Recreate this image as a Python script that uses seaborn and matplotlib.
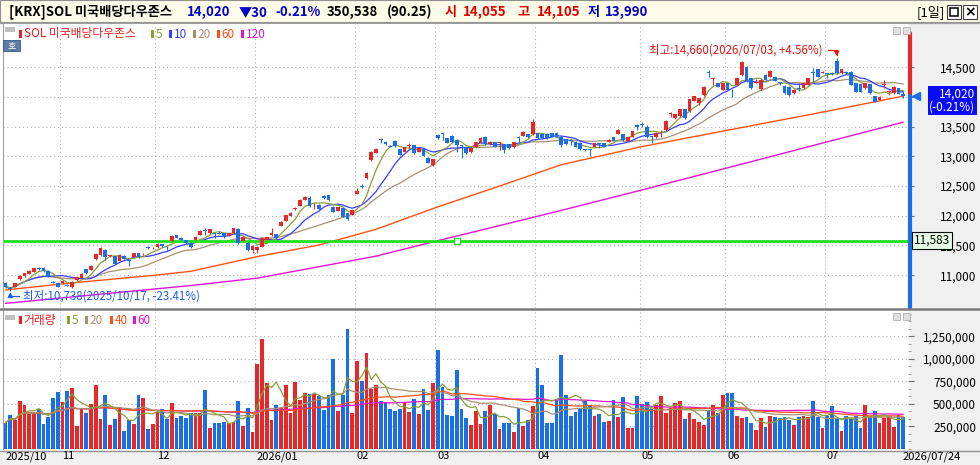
import numpy as np
import pandas as pd
import matplotlib
matplotlib.use("Agg")
import matplotlib.pyplot as plt
import matplotlib.transforms as mtransforms
from matplotlib.patches import Rectangle
from matplotlib.lines import Line2D
from matplotlib.ticker import MultipleLocator
from matplotlib import font_manager as fm
import seaborn as sns

# ---------------- data ----------------
opens = [10874,10790,10806,10930,10986,11025,11059,11126,11115,11070,10880,10874,
         10862,10830,10795,10919,10952,11098,11087,11267,11340,11424,11320,11323,11244,11323,11250,11312,11365,11350,11475,11450,
         11468,11525,11490,11581,11670,11630,11592,11548,11592,11677,11750,11705,11710,11712,11705,11660,11705,11772,11580,11548,11424,
         11424,11480,11592,11676,11693,11828,11918,11996,12115,12165,12266,12294,12190,12182,12333,12345,12154,12086,12126,12042,12013,
         12367,12495,12631,12940,13063,13285,13248,13170,13259,13119,13080,13175,13192,13080,13119,12979,12855,
         13360,13390,13304,13343,13276,13180,13153,13068,13164,13231,13332,13209,13237,13220,13209,13203,13153,13320,13349,13377,13372,
         13388,13380,13370,13388,13400,13320,13287,13270,13248,13231,13120,13115,13164,13215,13220,13250,13320,13377,13377,13264,13332,13520,
         13545,13489,13340,13321,13420,13444,13710,13640,13680,13792,13764,13938,13893,14033,14420,14300,14230,14117,
         14230,14120,14201,14370,14500,14314,14240,14129,14370,14342,14342,14250,14185,14174,14062,14150,14146,14202,14420,14465,14410,
         14400,14400,14600,14398,14420,14426,14230,14218,14146,14218,14017,13950,14200,14080,14062,14146,14055]
highs = [10890,10800,10875,11000,11040,11080,11125,11140,11130,11080,10895,10885,
         10915,10845,10900,10975,11030,11110,11165,11360,11480,11440,11345,11330,11350,11335,11255,11380,11375,11380,11490,11480,
         11535,11530,11495,11670,11680,11640,11600,11560,11660,11755,11790,11780,11715,11740,11715,11715,11800,11790,11645,11560,11500,
         11490,11640,11645,11790,11700,11910,12020,12060,12140,12275,12330,12330,12210,12190,12345,12355,12160,12150,12135,12050,12105,
         12460,12530,12735,13090,13140,13310,13260,13190,13270,13130,13160,13220,13200,13145,13130,12990,12960,
         13370,13400,13315,13355,13285,13190,13165,13155,13245,13325,13345,13255,13245,13240,13215,13210,13250,13350,13425,13385,13630,
         13400,13395,13390,13395,13410,13340,13300,13290,13255,13240,13130,13120,13230,13225,13230,13290,13330,13455,13385,13330,13435,13540,
         13580,13530,13350,13410,13444,13610,13740,13715,13800,13800,13970,14025,13985,14180,14460,14320,14240,14240,
         14240,14130,14320,14610,14520,14325,14300,14295,14380,14450,14350,14260,14195,14180,14130,14230,14250,14320,14480,14475,14430,
         14410,14420,14660,14470,14430,14435,14240,14225,14240,14225,14025,14010,14286,14118,14180,14155,14105]
lows = [10790,10738,10795,10920,10975,11015,11050,11090,11060,10965,10860,10795,
        10850,10810,10780,10910,10945,11020,11080,11255,11330,11255,11310,11180,11235,11270,11150,11300,11290,11345,11440,11440,
        11460,11480,11420,11575,11620,11585,11530,11460,11585,11670,11680,11700,11620,11690,11630,11655,11700,11520,11570,11400,11380,
        11380,11470,11585,11660,11610,11820,11910,11990,12100,12160,12260,12155,12110,12100,12285,12255,12060,12080,11975,11930,12005,
        12360,12470,12620,12930,13050,13220,13200,13150,13165,13015,13070,13135,13045,13070,13000,12885,12830,
        13295,13280,13225,13240,13080,12970,13045,13060,13155,13225,13200,13200,13155,13108,13060,13130,13145,13230,13340,13315,13365,
        13295,13300,13300,13320,13320,13160,13200,13190,13155,13110,13090,13010,13155,13135,13155,13245,13255,13370,13265,13255,13325,13444,
        13500,13310,13220,13315,13330,13435,13660,13630,13670,13630,13755,13930,13865,14025,14330,14200,14165,14110,
        14110,14005,14195,14360,14260,14140,14230,14120,14280,14335,14270,14202,14055,14025,14055,14100,14140,14195,14258,14335,14400,
        14315,14370,14390,14390,14390,14195,14085,14085,14140,14055,13910,13945,14146,14034,14055,14045,13990]
closes = [10806,10760,10862,10986,11031,11070,11115,11098,11076,10975,10870,10806,
          10907,10820,10890,10964,11020,11031,11154,11351,11452,11300,11330,11188,11340,11278,11240,11368,11300,11360,11465,11460,
          11525,11490,11485,11660,11626,11592,11540,11470,11648,11744,11740,11772,11700,11700,11637,11705,11789,11536,11637,11424,11491,
          11480,11620,11637,11705,11620,11901,12013,12052,12125,12266,12322,12165,12200,12110,12294,12266,12070,12142,11985,11940,12098,
          12423,12485,12726,13080,13119,13270,13209,13160,13175,13024,13153,13185,13052,13136,13007,12895,12950,
          13304,13380,13231,13248,13192,13170,13052,13147,13237,13315,13209,13248,13164,13230,13108,13136,13242,13310,13416,13321,13585,
          13304,13310,13315,13332,13330,13200,13208,13260,13164,13119,13110,13105,13220,13205,13164,13280,13264,13444,13276,13320,13427,13500,
          13530,13321,13330,13399,13430,13601,13720,13708,13792,13640,13960,14016,13977,14173,14410,14310,14174,14230,
          14117,14110,14314,14595,14270,14146,14260,14286,14286,14443,14275,14240,14062,14033,14120,14140,14240,14314,14400,14342,14420,
          14390,14390,14400,14465,14400,14202,14090,14090,14230,14062,13921,14005,14215,14090,14174,14050,14020]
volumes_k = [291,376,321,535,487,387,387,439,277,358,568,634,
             524,645,678,258,450,395,498,708,336,597,265,336,461,203,321,277,597,568,225,277,
             413,440,330,505,339,365,339,395,402,402,653,236,291,291,302,284,302,531,254,450,192,
             940,1217,734,321,487,450,708,402,737,542,616,608,608,586,431,597,999,424,597,1335,395,
             977,752,1066,660,708,531,524,439,420,439,520,413,553,387,664,431,726,
             1095,689,376,369,874,442,343,269,420,277,420,487,383,221,288,288,192,450,254,321,479,
             900,712,284,291,557,1040,597,365,413,439,535,476,365,387,302,313,542,358,579,229,236,586,
             498,524,439,487,586,395,450,505,535,332,402,332,302,265,431,487,402,597,
             623,623,365,339,358,291,210,339,240,365,350,339,358,321,265,358,365,358,535,358,236,
             365,476,339,199,365,328,365,236,487,365,420,291,339,365,247,376,351]

# long moving averages at a few candle positions
ma60_idx = [0, 13, 32, 39, 53, 66, 78, 91, 104, 117, 134, 152, 173, 189]
ma60_val = [10750, 10862, 11003, 11065, 11312, 11508, 11772, 12150, 12500, 12860, 13165, 13440, 13760, 14015]
ma120_idx = [0, 20, 39, 53, 78, 91, 117, 134, 156, 173, 189]
ma120_val = [10525, 10680, 10825, 10950, 11320, 11580, 12090, 12435, 12890, 13245, 13575]

month_starts = [0, 12, 32, 53, 74, 91, 112, 134, 152, 173]
month_labels = ['2025/10', '11', '12', '2026/01', '02', '03', '04', '05', '06', '07']
last_label = '2026/07/24'
price_ticks = [11000, 11500, 12000, 12500, 13000, 13500, 14000, 14500]
vol_ticks = [250000, 500000, 750000, 1000000, 1250000]
support_level = 11583
support_anchor = 95

# ---------------- style ----------------
sns.set_style("white")
KR = 'Noto Sans CJK KR'
names = {f.name for f in fm.fontManager.ttflist}
NUM = 'Liberation Sans Narrow' if 'Liberation Sans Narrow' in names else KR
NUMSIZE = 10 if NUM != KR else 8.5
XSIZE = 9 if NUM != KR else 8
plt.rcParams['font.family'] = [KR, 'DejaVu Sans']

RED = '#e62828'
BLUE = '#1a6ee6'
C5, C10, C20, C60, C120 = '#88a038', '#3c3cff', '#a89070', '#ff5014', '#e014d0'
GRID = '#b0b0b0'
AXBG = '#f0f0f0'

W, H = 980, 465
fig = plt.figure(figsize=(9.8, 4.65), dpi=100)
fig.patch.set_facecolor('white')


def frect(x0, y0, x1, y1, **kw):
    r = Rectangle((x0 / W, 1 - y1 / H), (x1 - x0) / W, (y1 - y0) / H,
                  transform=fig.transFigure, **kw)
    fig.add_artist(r)
    return r


def ftext(x, y, s, **kw):
    return fig.text(x / W, 1 - y / H, s, **kw)


# backgrounds
frect(0, 0, 980, 22, fc='#fdfce8', ec='#909090', lw=0.8, zorder=-1)
frect(909, 23, 980, 451, fc=AXBG, ec='none', zorder=-1)
frect(0, 451, 980, 465, fc=AXBG, ec='none', zorder=-1)
fig.add_artist(Line2D([0, 1], [1 - 451 / H] * 2, color='#909090', lw=1, transform=fig.transFigure, zorder=-0.5))
fig.add_artist(Line2D([0, 1], [1 - 23.5 / H] * 2, color='#a0a0a0', lw=1, transform=fig.transFigure, zorder=-0.5))

ax_p = fig.add_axes([3 / W, 1 - 308 / H, 905 / W, 284 / H])
ax_v = fig.add_axes([3 / W, 1 - 449 / H, 905 / W, 139 / H])
fig.add_artist(Line2D([0, 1], [1 - 309 / H] * 2, color='#7a7a7a', lw=1.8, transform=fig.transFigure, zorder=5))

n = len(closes)
x = np.arange(n)
O = np.array(opens, float); Hh = np.array(highs, float)
L = np.array(lows, float); C = np.array(closes, float)
V = np.array(volumes_k, float) * 1000
up = C >= O
cols = np.where(up, RED, BLUE)

XLIM = (-0.53, n - 0.0)
PLIM = (10447, 15229)
VLIM = (0, 1540000)

for ax in (ax_p, ax_v):
    ax.set_facecolor('white')
    ax.set_xlim(*XLIM)
    for s in ('top', 'right', 'bottom'):
        ax.spines[s].set_visible(False)
    ax.spines['left'].set_color('#a0a0a0')
    for m in month_starts[1:]:
        ax.axvline(m - 0.5, color=GRID, lw=0.8, ls=(0, (1, 2.5)), zorder=0.5)

# ---------------- price panel ----------------
ax_p.set_ylim(*PLIM)
for t in price_ticks:
    ax_p.axhline(t, color=GRID, lw=0.8, ls=(0, (1, 2.5)), zorder=0.5)

close_s = pd.Series(C)
sns.lineplot(x=ma120_idx, y=ma120_val, ax=ax_p, color=C120, linewidth=1.0, errorbar=None, zorder=2)
sns.lineplot(x=ma60_idx, y=ma60_val, ax=ax_p, color=C60, linewidth=1.0, errorbar=None, zorder=2)
for win, col in ((20, C20), (10, C10), (5, C5)):
    sns.lineplot(x=x, y=close_s.rolling(win, min_periods=1).mean().values, ax=ax_p,
                 color=col, linewidth=0.9, errorbar=None, zorder=2)

ax_p.axhline(support_level, color='#1ee01e', lw=2.0, zorder=2.5)
ax_p.plot([support_anchor], [support_level], marker='s', ms=5, mfc='white', mec='#1ee01e', mew=1, zorder=2.6)

ax_p.vlines(x, L, Hh, colors=cols, lw=0.8, zorder=3)
body_lo = np.minimum(O, C)
body_h = np.maximum(np.abs(C - O), 14)
ax_p.bar(x, body_h, bottom=body_lo, width=0.78, color=cols, linewidth=0, zorder=3.1)

ax_p.set_xticks([])
ax_p.yaxis.tick_right()
ax_p.set_yticks(price_ticks)
# the 14,000 label sits under the current-price box in the reference
ax_p.set_yticklabels(["" if t == 14000 else f"{t:,}" for t in price_ticks], fontfamily=NUM, fontsize=NUMSIZE)
ax_p.tick_params(axis='y', direction='out', length=4, width=0.8, colors='#707070',
                 labelcolor='black', pad=45)
for lb in ax_p.get_yticklabels():
    lb.set_horizontalalignment('right')
ax_p.set_xlabel(''); ax_p.set_ylabel('')

# right-edge current price bar
ytr = ax_p.get_yaxis_transform()
top_val = PLIM[1] - (PLIM[1] - PLIM[0]) * 9 / 284
ax_p.plot([1 + 2 / 905] * 2, [top_val, C[-1]], color=RED, lw=3, transform=ytr, clip_on=False, zorder=6)
ax_p.plot([1 + 2 / 905] * 2, [C[-1], PLIM[0]], color=BLUE, lw=3, transform=ytr, clip_on=False, zorder=6)
ax_p.plot([1 + 8 / 905], [C[-1]], marker='<', ms=6, color=BLUE, transform=ytr, clip_on=False, zorder=6)
chg = C[-1] - C[-2]
ax_p.annotate(f"{int(C[-1]):,}\n({chg / C[-2] * 100:+.2f}%)", xy=(1, C[-1]), xycoords=ytr,
              xytext=(48.5, 6), textcoords='offset points', ha='right', va='top',
              fontfamily=NUM, fontsize=NUMSIZE, color='white', linespacing=1.05,
              bbox=dict(boxstyle='square,pad=0.12', fc='#0a0aff', ec='none'), zorder=8,
              annotation_clip=False)
ax_p.annotate(f"{support_level:,}", xy=(1, support_level), xycoords=ytr,
              xytext=(4.5, 0), textcoords='offset points', ha='left', va='center',
              fontfamily=NUM, fontsize=NUMSIZE, color='black',
              bbox=dict(boxstyle='square,pad=0.15', fc='#e6ffe6', ec='black', lw=0.8), zorder=8,
              annotation_clip=False)

# high / low annotations
ih = int(np.argmax(Hh)); il = int(np.argmin(L))
ax_p.annotate(f"최고:{int(Hh[ih]):,}(2026/07/03, {(Hh[ih] / C[-1] - 1) * 100:+.2f}%)",
              xy=(ih, Hh[ih]), xytext=(-10, 5.5), textcoords='offset points', ha='right', va='center',
              fontsize=8.3, color='#e01818', zorder=7,
              arrowprops=dict(arrowstyle='-|>,head_length=0.35,head_width=0.18', color='#e01818', lw=0.9,
                              connectionstyle='angle,angleA=0,angleB=90', shrinkA=1, shrinkB=1))
ax_p.annotate(f"최저:{int(L[il]):,}(2025/10/17, {(L[il] / C[-1] - 1) * 100:+.2f}%)",
              xy=(il, L[il]), xytext=(9.5, -4), textcoords='offset points', ha='left', va='center',
              fontsize=8.3, color='#1e5ee6', zorder=7,
              arrowprops=dict(arrowstyle='-|>,head_length=0.35,head_width=0.18', color='#1e5ee6', lw=0.9,
                              connectionstyle='angle,angleA=0,angleB=90', shrinkA=1, shrinkB=1))

# ---------------- volume panel ----------------
ax_v.set_ylim(*VLIM)
for t in vol_ticks:
    ax_v.axhline(t, color=GRID, lw=0.8, ls=(0, (1, 2.5)), zorder=0.5)
ax_v.bar(x, V, width=0.82, color=cols, linewidth=0, zorder=2)
vol_s = pd.Series(V)
for win, col in ((60, C120), (40, C60), (20, C20), (5, C5)):
    sns.lineplot(x=x, y=vol_s.rolling(win, min_periods=1).mean().values, ax=ax_v,
                 color=col, linewidth=0.9, errorbar=None, zorder=3)
ax_v.yaxis.tick_right()
ax_v.set_yticks(vol_ticks)
ax_v.set_yticklabels([f"{t:,}" for t in vol_ticks], fontfamily=NUM, fontsize=NUMSIZE)
ax_v.yaxis.set_minor_locator(MultipleLocator(250000 / 3))
ax_v.tick_params(axis='y', which='major', direction='out', length=4, width=0.8, colors='#707070',
                 labelcolor='black', pad=45)
ax_v.tick_params(axis='y', which='minor', direction='out', length=2, width=0.6, colors='#909090')
for lb in ax_v.get_yticklabels():
    lb.set_horizontalalignment('right')
xt = [m - 0.5 for m in month_starts] + [n - 1.5]
ax_v.set_xticks(xt)
ax_v.set_xticklabels(month_labels + [last_label], fontfamily=NUM, fontsize=XSIZE)
ax_v.tick_params(axis='x', direction='out', length=4, width=0.8, colors='#707070', labelcolor='black', pad=-2.5)
off = mtransforms.ScaledTranslation(2 / 100, 0, fig.dpi_scale_trans)
for lb in ax_v.get_xticklabels():
    lb.set_horizontalalignment('left')
    lb.set_transform(lb.get_transform() + off)
ax_v.set_xlabel(''); ax_v.set_ylabel('')

# ---------------- title bar ----------------
TB = dict(fontsize=9.5, fontweight='bold', va='center')
DB = '#0000c8'; DR = '#e00000'
for s, xx, c in (("[KRX]SOL 미국배당다우존스", 9, 'black'), ("14,020", 187, DB), ("▼30", 239, DB),
                 ("-0.21%", 275, DB), ("350,538", 327, 'black'), ("(90.25)", 387, 'black'),
                 ("시", 445, DR), ("14,055", 463, DR), ("고", 517, DR), ("14,105", 537, DR),
                 ("저", 588, DB), ("13,990", 605, DB)):
    ftext(xx, 12, s, color=c, **TB)
ftext(917, 12, "[1일]", fontsize=9.5, va='center', color='black')
frect(947, 5, 961, 19, fc='white', ec='#404040', lw=0.8)
frect(950, 8, 958, 16, fc='none', ec='black', lw=1.1)
frect(963, 5, 977, 19, fc='white', ec='#404040', lw=0.8)
ftext(970, 12.5, "×", fontsize=10, fontweight='bold', ha='center', va='center', color='black', family='DejaVu Sans')

# ---------------- panel legends ----------------
frect(5, 27, 15, 32, fc='#c0c0c0', ec='none', zorder=4)
LEG = dict(fontsize=8.5, va='center', zorder=5)
for (bx, s, c) in ((19, "SOL 미국배당다우존스", '#e82020'), (151, "5", C5), (169, "10", C10),
                   (193, "20", C20), (217, "60", C60), (241, "120", C120)):
    frect(bx, 30, bx + 2.5, 38, fc=c, ec='none', zorder=5)
    ftext(bx + 4.5, 34, s, color=c, **LEG)
frect(3, 40, 20, 51, fc='#5a7ca6', ec='#3a5a80', lw=0.6, zorder=5)
ftext(11.5, 45.5, "호", fontsize=6.5, color='white', ha='center', va='center', zorder=6)
for ty in (27, 313):
    frect(893, ty, 900, ty + 7, fc='#e0e0e0', ec='#b0b0b0', lw=0.6, zorder=5)
    frect(903, ty, 910, ty + 7, fc='#e0e0e0', ec='#b0b0b0', lw=0.6, zorder=5)

frect(5, 315, 15, 320, fc='#c0c0c0', ec='none', zorder=4)
for (bx, s, c) in ((19, "거래량", '#e82020'), (67, "5", C5), (85, "20", C20),
                   (110, "40", C60), (133, "60", C120)):
    frect(bx, 316, bx + 2.5, 324, fc=c, ec='none', zorder=5)
    ftext(bx + 4.5, 320, s, color=c, **LEG)

fig.savefig("out.png", dpi=100, facecolor=fig.get_facecolor())
